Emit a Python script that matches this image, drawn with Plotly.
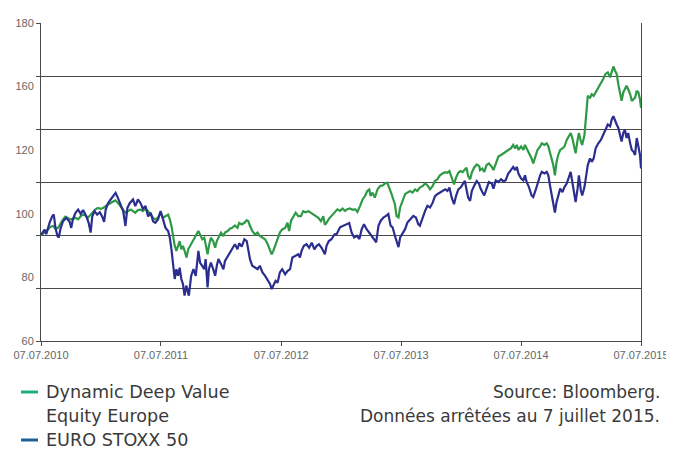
import pandas as pd
import plotly.graph_objects as go

# ---------------- data ----------------
start_date = "2010-07-07"

# Dynamic Deep Value Equity Europe  (days since start, index value)
ddv_days = [0, 11, 21, 29, 37, 44, 52, 60, 67, 74, 82, 90, 97, 105, 113, 121, 128, 135, 143, 151,
            158, 165, 173, 182, 189, 196, 204, 212, 219, 226, 234, 242, 250, 257, 265, 273, 280, 287, 295, 303,
            310, 318, 326, 334, 341, 348, 356, 364, 371, 379, 387, 392, 397, 402, 407, 412, 417, 422, 427, 432,
            437, 443, 448, 457, 464, 471, 479, 484, 491, 497, 501, 507, 511, 517, 524, 530, 535, 540, 548, 555,
            560, 568, 575, 582, 590, 598, 603, 611, 619, 626, 631, 636, 643, 651, 659, 666, 674, 682, 690, 697,
            702, 707, 714, 720, 727, 734, 743, 750, 755, 761, 768, 775, 783, 791, 798, 805, 814, 822, 829, 836,
            844, 852, 859, 864, 869, 876, 884, 893, 902, 910, 918, 925, 932, 940, 949, 956, 963, 971, 979, 986,
            993, 999, 1003, 1009, 1016, 1024, 1032, 1040, 1047, 1054, 1060, 1067, 1072, 1077, 1082, 1088, 1093, 1101, 1108, 1115,
            1123, 1131, 1138, 1145, 1153, 1162, 1169, 1176, 1184, 1192, 1199, 1206, 1214, 1222, 1230, 1237, 1243, 1250, 1257, 1263,
            1270, 1277, 1283, 1290, 1295, 1300, 1306, 1311, 1318, 1326, 1334, 1336, 1343, 1349, 1356, 1363, 1372, 1377, 1384, 1392,
            1400, 1407, 1414, 1422, 1430, 1437, 1443, 1448, 1453, 1461, 1468, 1473, 1478, 1485, 1493, 1498, 1505, 1511, 1519, 1524,
            1532, 1539, 1544, 1549, 1554, 1559, 1564, 1569, 1574, 1580, 1587, 1593, 1600, 1605, 1612, 1617, 1623, 1627, 1633, 1637,
            1643, 1647, 1654, 1658, 1664, 1671, 1676, 1682, 1688, 1696, 1704, 1711, 1718, 1725, 1732, 1737, 1742, 1747, 1752, 1757,
            1762, 1767, 1772, 1777, 1782, 1787, 1793, 1798, 1803, 1808, 1813, 1818, 1823, 1826]
ddv_values = [100.0, 100.9, 102.1, 103.1, 103.4, 102.4, 102.7, 104.6, 105.9, 106.9, 106.5, 105.9, 106.1, 106.5, 105.9, 107.1, 107.7, 107.4, 106.5, 107.7,
              108.4, 109.6, 110.2, 109.9, 110.2, 110.9, 111.5, 112.1, 112.7, 113.1, 112.1, 110.9, 109.6, 108.4, 109.0, 109.6, 109.0, 108.4, 109.4, 109.6,
              109.0, 109.9, 109.0, 107.7, 106.5, 105.9, 106.5, 108.4, 106.5, 107.1, 107.7, 105.9, 103.4, 99.6, 95.9, 94.0, 95.9, 97.7, 94.6, 95.9,
              94.0, 91.5, 94.6, 96.5, 98.4, 99.6, 101.5, 100.2, 98.4, 99.0, 96.5, 92.7, 95.9, 99.0, 97.7, 95.2, 97.7, 99.0, 100.9, 99.6,
              100.9, 101.5, 102.4, 102.7, 103.6, 102.7, 104.6, 104.0, 104.6, 105.6, 105.2, 103.4, 101.5, 100.2, 100.9, 99.6, 99.0, 98.4, 96.5, 94.6,
              92.7, 94.0, 96.5, 98.4, 100.9, 102.1, 102.7, 104.6, 101.5, 105.4, 107.1, 108.4, 107.1, 107.1, 109.0, 108.6, 109.0, 108.4, 107.7, 107.1,
              106.5, 105.2, 107.1, 103.9, 104.6, 106.1, 107.1, 108.4, 109.7, 109.1, 110.0, 109.1, 109.7, 110.0, 109.5, 109.7, 108.7, 111.0, 113.5, 114.7,
              116.6, 117.2, 114.7, 116.0, 114.1, 117.2, 118.5, 118.7, 119.5, 119.7, 117.9, 115.4, 113.5, 111.6, 107.2, 106.6, 110.4, 113.5, 115.4, 116.0,
              116.6, 116.0, 117.2, 116.6, 117.9, 118.5, 119.5, 118.7, 117.2, 118.5, 120.4, 121.0, 122.5, 123.2, 123.7, 123.5, 124.1, 121.6, 119.1, 121.6,
              123.5, 124.1, 123.7, 124.7, 125.4, 122.2, 121.0, 123.5, 125.4, 126.6, 126.0, 124.5, 125.1, 123.8, 126.4, 127.0, 125.7, 124.5, 127.0, 129.6,
              130.2, 130.8, 131.5, 132.1, 132.7, 134.0, 132.7, 134.0, 132.1, 133.4, 132.1, 134.0, 132.7, 131.5, 128.9, 127.0, 129.6, 132.1, 133.4, 134.6,
              134.0, 134.6, 133.4, 130.8, 128.9, 126.4, 122.5, 127.6, 130.2, 132.1, 132.7, 133.4, 135.9, 137.2, 138.5, 136.6, 132.1, 130.8, 135.9, 138.5,
              135.3, 134.0, 137.8, 144.2, 152.5, 151.8, 153.1, 152.5, 153.8, 155.7, 156.9, 158.9, 160.8, 161.4, 159.5, 162.0, 163.6, 162.0, 160.8, 156.9,
              153.1, 150.6, 153.8, 155.0, 156.3, 155.0, 153.1, 150.6, 151.2, 151.8, 154.4, 153.8, 151.2, 148.0]

# EURO STOXX 50  (days since start, index value)
sx5e_days = [0, 11, 16, 26, 34, 39, 44, 50, 54, 60, 67, 77, 87, 92, 97, 105, 113, 121, 128, 138,
             145, 151, 156, 163, 171, 179, 186, 192, 197, 204, 212, 219, 227, 234, 242, 250, 257, 263, 270, 280,
             287, 295, 303, 310, 318, 326, 334, 341, 348, 356, 364, 371, 379, 387, 392, 397, 402, 407, 412, 417,
             422, 427, 432, 437, 442, 447, 450, 457, 464, 471, 479, 484, 491, 497, 501, 507, 511, 517, 524, 530,
             535, 540, 548, 555, 560, 568, 575, 582, 590, 598, 603, 611, 619, 626, 631, 636, 643, 651, 659, 666,
             674, 682, 690, 697, 702, 707, 714, 720, 727, 734, 743, 750, 758, 765, 773, 783, 788, 793, 800, 808,
             816, 824, 832, 839, 846, 854, 864, 869, 876, 884, 893, 900, 910, 920, 930, 938, 945, 953, 961, 969,
             976, 983, 991, 999, 1006, 1013, 1020, 1027, 1034, 1042, 1050, 1057, 1064, 1070, 1077, 1082, 1088, 1093, 1101, 1108,
             1115, 1123, 1133, 1141, 1148, 1153, 1162, 1169, 1176, 1184, 1192, 1199, 1206, 1214, 1222, 1230, 1237, 1243, 1250, 1257,
             1263, 1270, 1277, 1283, 1290, 1295, 1300, 1306, 1311, 1318, 1326, 1334, 1336, 1343, 1349, 1356, 1363, 1372, 1377, 1384,
             1392, 1400, 1407, 1414, 1422, 1430, 1437, 1443, 1448, 1453, 1461, 1468, 1473, 1478, 1485, 1493, 1498, 1505, 1511, 1519,
             1524, 1532, 1539, 1544, 1549, 1554, 1559, 1564, 1569, 1574, 1580, 1587, 1593, 1600, 1605, 1612, 1617, 1623, 1627, 1633,
             1637, 1643, 1647, 1654, 1658, 1664, 1671, 1676, 1682, 1688, 1696, 1704, 1711, 1718, 1725, 1732, 1737, 1742, 1747, 1752,
             1757, 1762, 1767, 1772, 1777, 1782, 1787, 1793, 1798, 1803, 1808, 1813, 1818, 1823, 1826]
sx5e_values = [100.0, 102.0, 100.3, 104.6, 107.0, 107.7, 102.7, 99.6, 99.0, 102.7, 105.2, 106.5, 105.0, 102.7, 105.9, 108.4, 109.6, 108.0, 109.4, 107.0,
               104.6, 100.9, 107.0, 109.0, 107.7, 108.6, 107.0, 105.0, 109.6, 112.0, 113.4, 114.6, 115.9, 114.0, 111.5, 109.0, 103.4, 110.3, 112.0, 113.4,
               110.9, 113.4, 112.0, 109.9, 110.9, 107.0, 108.4, 105.2, 104.6, 105.9, 109.0, 105.9, 102.7, 101.5, 99.0, 94.6, 88.4, 83.4, 87.1, 84.6,
               87.7, 83.4, 81.5, 77.1, 80.9, 78.4, 77.1, 84.6, 87.1, 84.6, 94.0, 89.6, 88.4, 87.1, 90.9, 80.2, 87.1, 89.6, 87.1, 84.6,
               88.4, 90.9, 89.0, 87.1, 90.2, 91.9, 93.4, 95.2, 96.5, 94.6, 96.9, 95.6, 98.4, 97.7, 94.6, 90.9, 88.4, 87.7, 87.1, 88.4,
               85.9, 84.6, 82.7, 81.5, 79.6, 80.9, 82.7, 82.0, 85.9, 87.1, 85.2, 86.4, 87.1, 91.5, 92.1, 92.7, 91.5, 94.0, 95.9, 96.5,
               95.2, 97.1, 94.6, 95.9, 96.5, 95.2, 92.7, 95.9, 97.7, 98.4, 100.2, 100.4, 102.9, 103.5, 104.1, 104.5, 101.0, 99.1, 99.7, 98.5,
               102.2, 104.1, 102.2, 101.0, 99.7, 98.5, 97.2, 103.5, 105.4, 106.6, 107.2, 107.9, 103.5, 102.9, 99.7, 97.9, 95.4, 99.1, 101.0, 102.2,
               104.7, 106.0, 107.2, 106.6, 104.1, 103.5, 107.2, 109.1, 111.0, 110.4, 112.2, 114.7, 115.4, 116.0, 116.6, 117.2, 116.6, 117.9, 114.1, 111.6,
               114.7, 117.2, 117.9, 119.1, 120.4, 117.2, 114.1, 112.9, 116.6, 118.5, 120.4, 119.1, 118.1, 116.2, 114.9, 117.5, 120.0, 119.4, 117.5, 120.6,
               120.0, 121.0, 120.3, 120.6, 123.2, 124.5, 125.7, 124.5, 125.7, 123.2, 121.3, 120.6, 122.5, 120.0, 118.1, 114.9, 114.3, 116.8, 119.4, 122.5,
               123.8, 123.2, 123.8, 122.5, 118.7, 114.9, 111.7, 108.5, 112.4, 114.9, 117.5, 116.2, 118.1, 119.4, 121.3, 123.8, 120.0, 115.5, 112.4, 117.5,
               122.5, 116.8, 114.9, 118.1, 121.3, 126.4, 128.9, 127.6, 128.9, 132.7, 134.6, 135.9, 137.8, 139.7, 141.7, 141.0, 143.6, 144.8, 142.9, 141.7,
               140.4, 137.8, 135.3, 138.5, 139.7, 136.6, 138.5, 134.6, 132.1, 131.5, 130.2, 136.6, 132.7, 130.2, 125.1]

series_names = ["Dynamic Deep Value Equity Europe", "EURO STOXX 50"]

# axis ticks
x_tick_dates = ["2010-07-07", "2011-07-07", "2012-07-07", "2013-07-07", "2014-07-07", "2015-07-07"]
x_tick_labels = ["07.07.2010", "07.07.2011", "07.07.2012", "07.07.2013", "07.07.2014", "07.07.2015"]
y_grid_values = [60, 80, 100, 120, 140, 160, 180]
y_tick_labels = ["60", "80", "100", "120", "160", "180"]   # as printed on the original

source_lines = ["Source: Bloomberg.", "Données arrêtées au 7 juillet 2015."]

# ---------------- figure ----------------
base = pd.Timestamp(start_date)
x_ddv = base + pd.to_timedelta(ddv_days, unit="D")
x_sx5e = base + pd.to_timedelta(sx5e_days, unit="D")

LINE_GREEN = "#2f9a45"
LINE_BLUE = "#2b2e8e"
LEG_GREEN = "#1cb078"
LEG_BLUE = "#1f5e9f"
GRID = "#4a4a4a"
TICK_FONT = dict(family="Liberation Sans, Arial, sans-serif", size=11, color="#666666")
LEGEND_FONT = dict(family="DejaVu Sans, sans-serif", size=17.6, color="#3a3a3a")
TEXT_FONT = dict(family="DejaVu Sans, sans-serif", size=17, color="#3a3a3a")

fig = go.Figure()
fig.add_trace(go.Scatter(x=x_ddv, y=ddv_values, mode="lines", name=series_names[0],
                         line=dict(color=LINE_GREEN, width=2.2), showlegend=False))
fig.add_trace(go.Scatter(x=x_sx5e, y=sx5e_values, mode="lines", name=series_names[1],
                         line=dict(color=LINE_BLUE, width=2.2), showlegend=False))
# invisible trace carrying the printed y labels on an overlaid axis
fig.add_trace(go.Scatter(x=[x_tick_dates[0]], y=[0], yaxis="y2", mode="markers",
                         marker=dict(opacity=0), showlegend=False, hoverinfo="skip"))

# the page body adds an 8px offset: figure 666x443 puts the plot area at columns 41..641, rows 23..341
fig.update_layout(
    width=666, height=443,
    margin=dict(l=33, r=33, t=15, b=110),
    paper_bgcolor="white", plot_bgcolor="white",
    xaxis=dict(range=[x_tick_dates[0], x_tick_dates[-1]], tickvals=x_tick_dates, ticktext=x_tick_labels,
               showgrid=False, showline=True, linecolor=GRID, linewidth=1.3, automargin=False,
               ticks="outside", ticklen=4, tickcolor=GRID, tickfont=TICK_FONT, zeroline=False),
    yaxis=dict(range=[60, 180], tickvals=y_grid_values, showticklabels=False, automargin=False,
               showgrid=True, gridcolor=GRID, gridwidth=1.3,
               showline=True, mirror=True, linecolor=GRID, linewidth=1.3,
               ticks="outside", ticklen=4, tickcolor=GRID, zeroline=False),
    yaxis2=dict(overlaying="y", side="left", anchor="x", range=[0, len(y_tick_labels) - 1],
                tickvals=list(range(len(y_tick_labels))), ticktext=y_tick_labels, automargin=False,
                showgrid=False, showline=False, zeroline=False, ticks="outside", ticklen=4,
                tickcolor="rgba(0,0,0,0)", tickfont=TICK_FONT),
)

def py(p):   # window pixel row -> paper y (plot area spans rows 23..341)
    return (341 - p) / 318.0

def px(p):   # window pixel column -> paper x (plot area spans columns 41..641)
    return (p - 41) / 600.0

# legend (custom, below the chart)
fig.add_shape(type="line", xref="paper", yref="paper", x0=px(21), x1=px(38), y0=py(392), y1=py(392),
              line=dict(color=LEG_GREEN, width=3))
fig.add_shape(type="line", xref="paper", yref="paper", x0=px(21), x1=px(38), y0=py(440), y1=py(440),
              line=dict(color=LEG_BLUE, width=3))
fig.add_annotation(xref="paper", yref="paper", x=px(44), y=py(392), xanchor="left", yanchor="middle",
                   text="Dynamic Deep Value", showarrow=False, font=LEGEND_FONT)
fig.add_annotation(xref="paper", yref="paper", x=px(44), y=py(416), xanchor="left", yanchor="middle",
                   text="Equity Europe", showarrow=False, font=LEGEND_FONT)
fig.add_annotation(xref="paper", yref="paper", x=px(44), y=py(440), xanchor="left", yanchor="middle",
                   text=series_names[1], showarrow=False, font=LEGEND_FONT)
# source note
fig.add_annotation(xref="paper", yref="paper", x=px(662), y=py(392), xanchor="right", yanchor="middle",
                   text=source_lines[0], showarrow=False, font=TEXT_FONT)
fig.add_annotation(xref="paper", yref="paper", x=px(662), y=py(416), xanchor="right", yanchor="middle",
                   text=source_lines[1], showarrow=False, font=TEXT_FONT)

fig.write_html("out.html")
